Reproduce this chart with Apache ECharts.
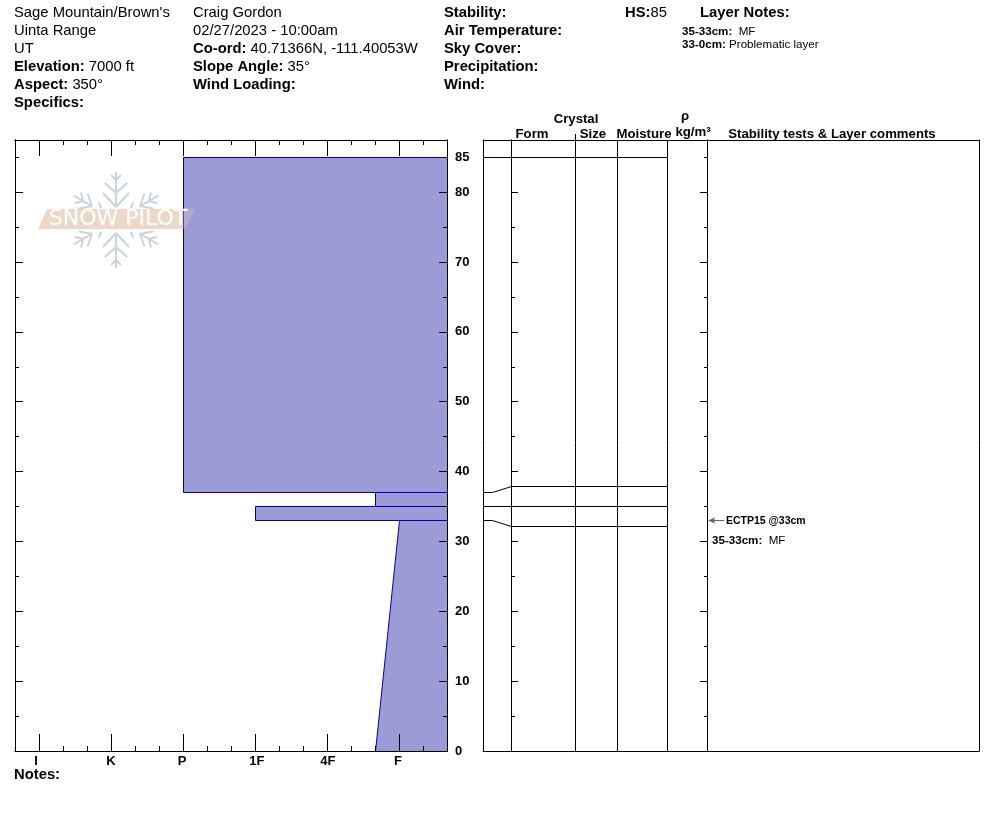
<!DOCTYPE html>
<html><head><meta charset="utf-8">
<style>html,body{margin:0;padding:0;background:#fff}#c{width:994px;height:840px}</style>
<script src="https://cdn.jsdelivr.net/npm/echarts@6/dist/echarts.min.js"></script>
</head><body><div id="c"></div>
<script>
// ---- data ----
var hardnessLabels = ['I','K','P','1F','4F','F'];
var hardnessLabelPos = [0.875,4,6.96,10.08,13.04,15.96];
var hardnessMajor = [1,4,7,10,13,16];
var hardnessMinor = [2,3,5,6,8,9,11,12,14,15,17];
var depthMajor = [10,20,30,40,50,60,70,80];
var depthMinor = [5,15,25,35,45,55,65,75,85];
var depthLabels = [0,10,20,30,40,50,60,70,80,85];
var layerTop = [85,37,35,33];
var layerBottom = [37,35,33,0];
var hardTop = [7,15,10,16.04];
var hardBottom = [7,15,10,15];
var gridLeftDepth = [85,37,35,33];
var gridRightDepth = [85,37.92,35,32.2];
var connectorX = [0,9,28,184];
var columnEdges = [92,134,184];
var testDepth = 33;
var depthMax = 87.47;
var FONT = '"Liberation Sans", Arial, sans-serif';

// ---- header text: [x, centre y, text] ----
var S = 14.8;
var headerRows = [
 [14,13,"Sage Mountain/Brown's"],[14,31,'Uinta Range'],[14,49,'UT'],
 [14,67,'{b|Elevation:} 7000 ft'],[14,85,'{b|Aspect:} 350°'],[14,103,'{b|Specifics:}'],
 [193,13,'Craig Gordon'],[193,31,'02/27/2023 - 10:00am'],[193,49,'{b|Co-ord:} 40.71366N, -111.40053W'],
 [193,67,'{b|Slope Angle:} 35°'],[193,85,'{b|Wind Loading:}'],
 [444,13,'{b|Stability:}'],[444,31,'{b|Air Temperature:}'],[444,49,'{b|Sky Cover:}'],
 [444,67,'{b|Precipitation:}'],[444,85,'{b|Wind:}'],
 [625,13,'{b|HS:}85'],[700,13,'{b|Layer Notes:}'],[14,775,'{b|Notes:}']
];
var smallRows = [
 [682,32,'{b|35-33cm:}  MF'],[682,45,'{b|33-0cm:} Problematic layer'],[712,541,'{b|35-33cm:}  MF']
];
var columnRows = [
 [576,119,'Crystal'],[532,134,'Form'],[593,134,'Size'],[644,134,'Moisture'],
 [685,116,'ρ'],[693,132,'kg/m³'],[832,134,'Stability tests & Layer comments']
];

function txt(r,size,color,align,allBold){
  return {type:'text',x:r[0],y:r[1],z:50,silent:true,style:{
    text:r[2],fontFamily:FONT,fontSize:size,fill:color||'#000',
    fontWeight:allBold?'bold':'normal',
    align:align||'left',verticalAlign:'middle',
    rich:{b:{fontWeight:'bold',fontFamily:FONT,fontSize:size,fill:color||'#000'}}
  }};
}
var graphics = [];
headerRows.forEach(function(r){graphics.push(txt(r,S));});
smallRows.forEach(function(r){graphics.push(txt(r,11.6));});
columnRows.forEach(function(r){graphics.push(txt(r,13.2,'#000','center',true));});

// snowflake logo (decoration)
var flakeColor = '#c7d4dc';
var fcx=116, fcy=220;
[0,60,120,180,240,300].forEach(function(a){
  var straight=(a%180===0);
  var L=function(x1,y1,x2,y2){return {type:'line',shape:{x1:x1,y1:y1,x2:x2,y2:y2},style:{stroke:flakeColor,lineWidth:2}};};
  var kids;
  if(straight){
    kids=[L(0,-13,0,-48),L(0,-13,-13,-27),L(0,-13,13,-27),L(0,-27,-11,-37),L(0,-27,11,-37),L(0,-40,-5,-45),L(0,-40,5,-45)];
  }else{
    kids=[L(0,-27,0,-49),L(0,-28,-9,-38),L(0,-28,9,-38),L(0,-38,-6,-44),L(0,-38,6,-44),L(3,-19,7,-24),L(-3,-19,-7,-24)];
  }
  graphics.push({type:'group',x:fcx,y:fcy,rotation:a*Math.PI/180,z:60,silent:true,children:kids});
});
graphics.push({type:'polygon',z:61,silent:true,shape:{points:[[38,229],[47,209],[183,209],[183,229]]},style:{fill:'#eed7c4'}});
graphics.push({type:'polygon',z:61,silent:true,shape:{points:[[183,209],[195,209],[185,229],[183,229]]},style:{fill:'rgba(230,215,190,0.3)'}});
graphics.push({type:'text',x:118,y:219,z:62,silent:true,style:{text:'SNOW PILOT',fontFamily:'"DejaVu Sans"',fontSize:22,fill:'#fff',align:'center',verticalAlign:'middle',stroke:'#e4e4e4',lineWidth:0.5}});

// ---- axes ----
var black={color:'#000',width:1};
function xAxis(grid,pos,max,ticks,len,extra){
  return Object.assign({type:'value',gridIndex:grid,position:pos,min:0,max:max,z:5,silent:true,
    axisLine:{show:true,onZero:false,lineStyle:black},
    axisTick:ticks?{show:true,inside:true,length:len,customValues:ticks,lineStyle:black}:{show:false},
    axisLabel:{show:false},splitLine:{show:false}},extra||{});
}
function yAxis(grid,pos,offset,ticks,len,extra){
  return Object.assign({type:'value',gridIndex:grid,position:pos,offset:offset,min:0,max:depthMax,z:5,silent:true,
    axisLine:{show:true,onZero:false,lineStyle:black},
    axisTick:ticks?{show:true,inside:true,length:len,customValues:ticks,lineStyle:black}:{show:false},
    axisLabel:{show:false},splitLine:{show:false}},extra||{});
}
var xAxes=[
  xAxis(0,'bottom',18,hardnessMajor,17,{axisLabel:{show:true,customValues:hardnessLabelPos,margin:4,
     fontFamily:FONT,fontWeight:'bold',fontSize:13,color:'#000',
     formatter:function(v,i){return hardnessLabels[hardnessLabelPos.indexOf(v)];}}}),
  xAxis(0,'bottom',18,hardnessMinor,5),
  xAxis(0,'top',18,hardnessMajor,16),
  xAxis(0,'top',18,hardnessMinor,5),
  xAxis(1,'bottom',496,null,0),
  xAxis(1,'top',496,null,0)
];
var yAxes=[
  yAxis(0,'left',0,depthMajor,8),
  yAxis(0,'left',0,depthMinor,4),
  yAxis(0,'right',0,depthMajor,8,{axisLabel:{show:true,customValues:depthLabels,margin:8,padding:[4,0,0,0],
     fontFamily:FONT,fontWeight:'bold',fontSize:13,color:'#000',formatter:function(v){return String(v);}}}),
  yAxis(0,'right',0,depthMinor,4),
  yAxis(1,'left',0,null,0),
  yAxis(1,'right',0,null,0),
  yAxis(1,'left',-28,depthMajor,7),
  yAxis(1,'left',-28,depthMinor,4),
  yAxis(1,'right',-272,depthMajor,7),
  yAxis(1,'right',-272,depthMinor,3)
];

function px(v){return Math.floor(v+0.01)+0.5;}
var hardnessData = layerTop.map(function(t,i){return [layerTop[i],layerBottom[i],hardTop[i],hardBottom[i]];});
var layerLineData = gridLeftDepth.map(function(d,i){return [d,gridRightDepth[i]];});

var option={
  animation:false,
  backgroundColor:'#fff',
  graphic:graphics,
  grid:[{left:15,top:140,width:432,height:611},{left:483,top:140,width:496,height:611}],
  xAxis:xAxes,yAxis:yAxes,
  series:[
    {type:'custom',xAxisIndex:0,yAxisIndex:0,clip:false,z:2,silent:true,data:hardnessData,
     renderItem:function(p,api){
       var t=api.value(0),b=api.value(1),ht=api.value(2),hb=api.value(3);
       var a=api.coord([ht,t]),c=api.coord([hb,b]),r=api.coord([18,t]),q=api.coord([18,b]);
       return {type:'polygon',shape:{points:[[px(a[0]),px(a[1])],[px(r[0]),px(r[1])],[px(q[0]),px(q[1])],[px(c[0]),px(c[1])]]},
         style:{fill:'#9b9bd6',stroke:'#0000b0',lineWidth:1}};
     }},
    {type:'custom',xAxisIndex:4,yAxisIndex:4,clip:false,z:2,silent:true,data:layerLineData,
     renderItem:function(p,api){
       var l=api.value(0),r=api.value(1);
       var ds=[l,l,r,r];
       var pts=connectorX.map(function(x,i){var c=api.coord([x,ds[i]]);return [px(c[0]),px(c[1])];});
       return {type:'polyline',shape:{points:pts},style:{fill:null,stroke:'#000',lineWidth:1}};
     }},
    {type:'custom',xAxisIndex:4,yAxisIndex:4,clip:false,z:2,silent:true,data:columnEdges.map(function(x){return [x];}),
     renderItem:function(p,api){
       var x=api.value(0);
       var a=api.coord([x,0]),b=api.coord([x,depthMax]);
       var top=b[1]-(x===92?6:0);
       return {type:'line',shape:{x1:px(a[0]),y1:a[1],x2:px(a[0]),y2:top},style:{stroke:'#000',lineWidth:1}};
     }},
    {type:'custom',xAxisIndex:4,yAxisIndex:4,clip:false,z:3,silent:true,data:[[225,testDepth]],
     renderItem:function(p,api){
       var c=api.coord([api.value(0),api.value(1)]),x=c[0],y=px(c[1]);
       return {type:'group',children:[
         {type:'line',shape:{x1:x+1,y1:y,x2:x+16,y2:y},style:{stroke:'#666',lineWidth:1}},
         {type:'polygon',shape:{points:[[x,y],[x+7,y-3],[x+6,y],[x+7,y+3]]},style:{fill:'#666'}},
         {type:'text',x:x+18,y:y+1,style:{text:'ECTP15 @33cm',fontFamily:FONT,fontSize:10.5,fontWeight:'bold',fill:'#000',align:'left',verticalAlign:'middle'}}
       ]};
     }}
  ]
};
echarts.init(document.getElementById('c'),null,{renderer:'canvas'}).setOption(option);
</script></body></html>
